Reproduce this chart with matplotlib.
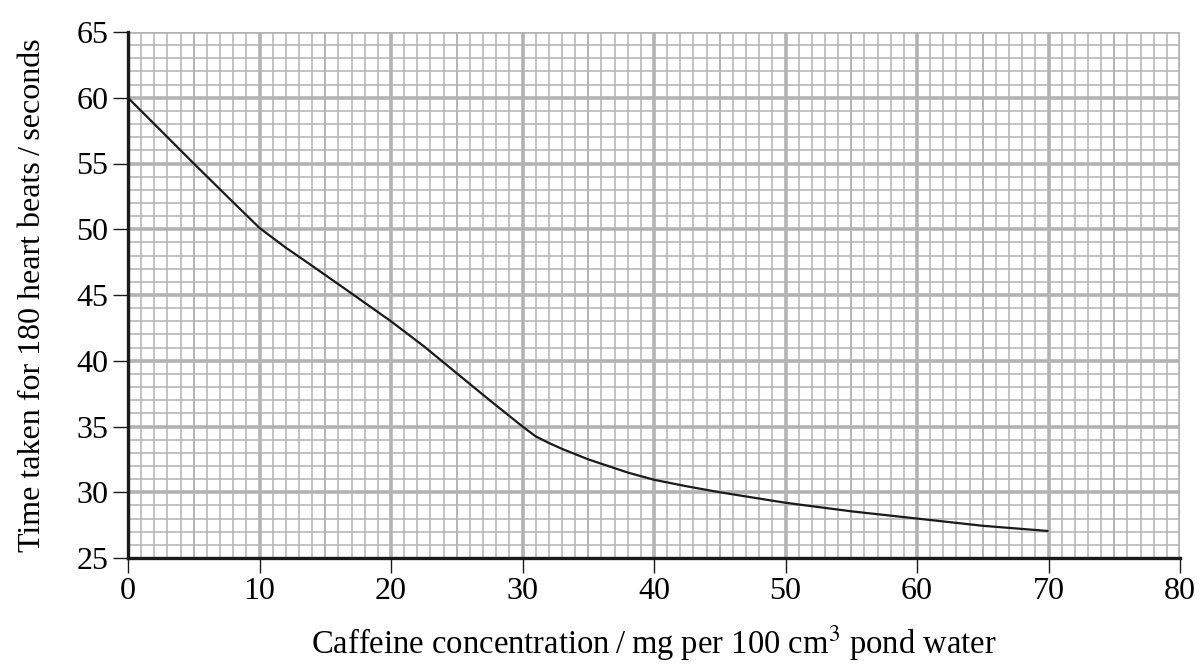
import matplotlib
matplotlib.use("Agg")
import matplotlib.pyplot as plt

# Data
caffeine = [0, 5, 8, 10, 12, 13.6, 16.6, 20, 22.5, 25, 27.5, 30, 31, 32, 33, 34, 35,
            36.5, 38, 40, 42.5, 45, 47.5, 50, 55, 60, 65, 70]
time_s = [60, 55, 52.05, 50.1, 48.6, 47.5, 45.4, 43.0, 41.1, 39.05, 37.0, 35.0, 34.25, 33.75,
          33.3, 32.9, 32.5, 32.0, 31.5, 30.95, 30.45, 30.0, 29.6, 29.2, 28.55, 28.0, 27.45, 27.05]
x_ticks = [0, 10, 20, 30, 40, 50, 60, 70, 80]
y_ticks = [25, 30, 35, 40, 45, 50, 55, 60, 65]
x_label = "Caffeine concentration\u2009/\u2009mg per 100 cm$^3$ pond water"
y_label = "Time taken for 180 heart beats\u2009/\u2009seconds"

plt.rcParams['font.family'] = ['Liberation Serif', 'DejaVu Serif']
plt.rcParams['mathtext.fontset'] = 'stix'

fig = plt.figure(figsize=(11.99, 6.65), dpi=100)
ax = fig.add_axes([128/1199, 1 - 558/665, (1180-128)/1199, (558-32)/665])
ax.set_xlim(0, 80)
ax.set_ylim(25, 65)

grid_c = '#b3b3b3'
for v in range(1, 80):
    if v % 10 == 0:
        continue
    lw = 1.4 if v % 5 == 0 else 1.1
    ax.axvline(v, color=grid_c, lw=lw, zorder=1)
for v in range(26, 65):
    if v % 5 == 0:
        continue
    ax.axhline(v, color=grid_c, lw=1.1, zorder=1)
for v in range(10, 81, 10):
    ax.axvline(v, color=grid_c, lw=2.6, zorder=1.5)
for v in range(30, 66, 5):
    ax.axhline(v, color=grid_c, lw=2.6, zorder=1.5)

ax.plot(caffeine, time_s, color='#1a1a1a', lw=1.6, zorder=3,
        solid_capstyle='butt', solid_joinstyle='round')

for s in ['top', 'right']:
    ax.spines[s].set_visible(False)
for s in ['left', 'bottom']:
    ax.spines[s].set_linewidth(2.4)
    ax.spines[s].set_color('#1a1a1a')
    ax.spines[s].set_zorder(4)

ax.set_xticks(x_ticks)
ax.set_yticks(y_ticks)
ax.tick_params(axis='both', direction='out', length=11, width=1.0, color='#1a1a1a',
               labelsize=23, pad=3)
ax.set_xlabel(x_label, fontsize=23.5, labelpad=12)
ax.set_ylabel(y_label, fontsize=23, labelpad=21)

fig.savefig('out.png', dpi=100)
